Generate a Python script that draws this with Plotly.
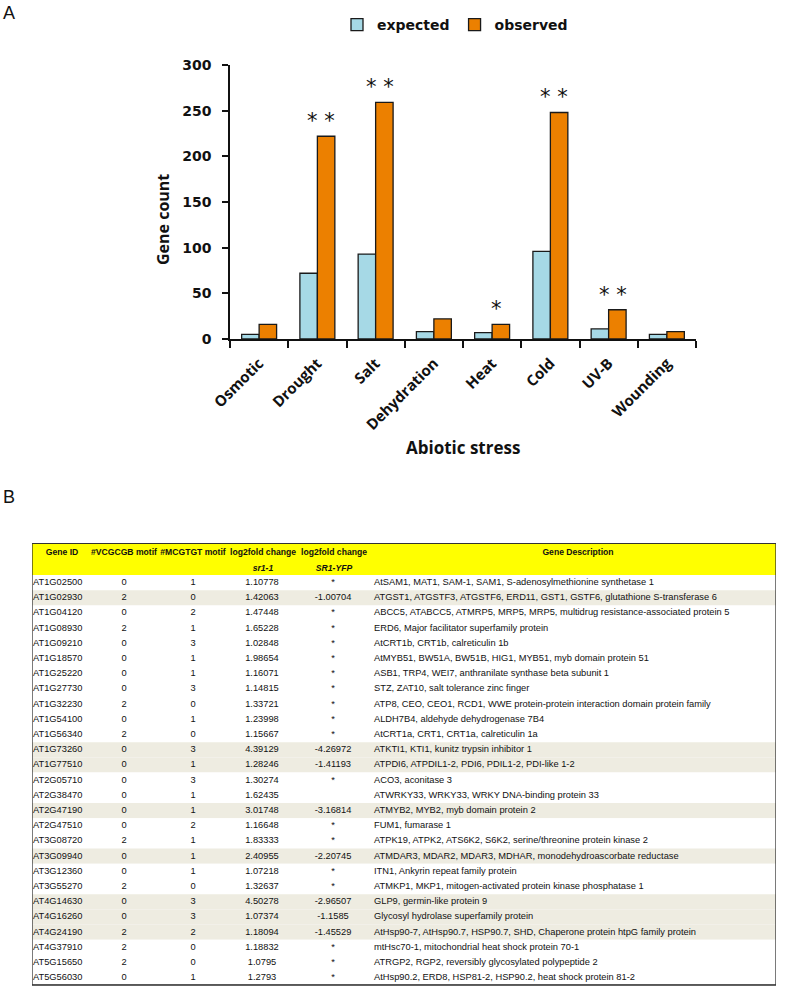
import plotly.graph_objects as go

W, H = 787, 995

# ---------------- Panel A data ----------------
stress = ["Osmotic", "Drought", "Salt", "Dehydration", "Heat", "Cold", "UV-B", "Wounding"]
expected = [5, 72, 93, 8, 7, 96, 11, 5]
observed = [16, 222, 259, 22, 16, 248, 32, 8]
significance = ["", "**", "**", "", "*", "**", "**", ""]
y_ticks = [0, 50, 100, 150, 200, 250, 300]

# ---------------- Panel B data ----------------
header_top = ["Gene ID", "#VCGCGB motif", "#MCGTGT motif", "log2fold change", "log2fold change", "Gene Description"]
header_sub = ["", "", "", "sr1-1", "SR1-YFP", ""]
gene_id = ["AT1G02500", "AT1G02930", "AT1G04120", "AT1G08930", "AT1G09210", "AT1G18570", "AT1G25220",
           "AT1G27730", "AT1G32230", "AT1G54100", "AT1G56340", "AT1G73260", "AT1G77510", "AT2G05710",
           "AT2G38470", "AT2G47190", "AT2G47510", "AT3G08720", "AT3G09940", "AT3G12360", "AT3G55270",
           "AT4G14630", "AT4G16260", "AT4G24190", "AT4G37910", "AT5G15650", "AT5G56030"]
vcgcgb = ["0", "2", "0", "2", "0", "0", "0", "0", "2", "0", "2", "0", "0", "0",
          "0", "0", "0", "2", "0", "0", "2", "0", "0", "2", "2", "2", "0"]
mcgtgt = ["1", "0", "2", "1", "3", "1", "1", "3", "0", "1", "0", "3", "1", "3",
          "1", "1", "2", "1", "1", "1", "0", "3", "3", "2", "0", "0", "1"]
log2fc_sr1 = ["1.10778", "1.42063", "1.47448", "1.65228", "1.02848", "1.98654", "1.16071",
              "1.14815", "1.33721", "1.23998", "1.15667", "4.39129", "1.28246", "1.30274",
              "1.62435", "3.01748", "1.16648", "1.83333", "2.40955", "1.07218", "1.32637",
              "4.50278", "1.07374", "1.18094", "1.18832", "1.0795", "1.2793"]
log2fc_yfp = ["*", "-1.00704", "*", "*", "*", "*", "*", "*", "*", "*", "*", "-4.26972", "-1.41193", "*",
              "", "-3.16814", "*", "*", "-2.20745", "*", "*", "-2.96507", "-1.1585", "-1.45529",
              "*", "*", "*"]
description = [
    "AtSAM1, MAT1, SAM-1, SAM1, S-adenosylmethionine synthetase 1",
    "ATGST1, ATGSTF3, ATGSTF6, ERD11, GST1, GSTF6, glutathione S-transferase 6",
    "ABCC5, ATABCC5, ATMRP5, MRP5, MRP5, multidrug resistance-associated protein 5",
    "ERD6, Major facilitator superfamily protein",
    "AtCRT1b, CRT1b, calreticulin 1b",
    "AtMYB51, BW51A, BW51B, HIG1, MYB51, myb domain protein 51",
    "ASB1, TRP4, WEI7, anthranilate synthase beta subunit 1",
    "STZ, ZAT10, salt tolerance zinc finger",
    "ATP8, CEO, CEO1, RCD1, WWE protein-protein interaction domain protein family",
    "ALDH7B4, aldehyde dehydrogenase 7B4",
    "AtCRT1a, CRT1, CRT1a, calreticulin 1a",
    "ATKTI1, KTI1, kunitz trypsin inhibitor 1",
    "ATPDI6, ATPDIL1-2, PDI6, PDIL1-2, PDI-like 1-2",
    "ACO3, aconitase 3",
    "ATWRKY33, WRKY33, WRKY DNA-binding protein 33",
    "ATMYB2, MYB2, myb domain protein 2",
    "FUM1, fumarase 1",
    "ATPK19, ATPK2, ATS6K2, S6K2, serine/threonine protein kinase 2",
    "ATMDAR3, MDAR2, MDAR3, MDHAR, monodehydroascorbate reductase",
    "ITN1, Ankyrin repeat family protein",
    "ATMKP1, MKP1, mitogen-activated protein kinase phosphatase 1",
    "GLP9, germin-like protein 9",
    "Glycosyl hydrolase superfamily protein",
    "AtHsp90-7, AtHsp90.7, HSP90.7, SHD, Chaperone protein htpG family protein",
    "mtHsc70-1, mitochondrial heat shock protein 70-1",
    "ATRGP2, RGP2, reversibly glycosylated polypeptide 2",
    "AtHsp90.2, ERD8, HSP81-2, HSP90.2, heat shock protein 81-2",
]

# ---------------- styling / layout constants ----------------
C_EXP = "#a6d9e6"
C_OBS = "#ec8000"
C_BEIGE = "#eeece1"
C_YELLOW = "#ffff00"
BOLD_SANS = "Open Sans"
VERD = "DejaVu Sans"
TFONT = "Liberation Sans"


def px(x):
    """page x (pixels) -> paper fraction"""
    return x / W


def py(y):
    """page y (pixels from top) -> paper fraction"""
    return 1 - y / H


fig = go.Figure()

# ---- Panel A bars ----
fig.add_trace(go.Bar(x=stress, y=expected, name="expected",
                     marker=dict(color=C_EXP, line=dict(color="#1a1a1a", width=1.3)),
                     xaxis="x", yaxis="y"))
fig.add_trace(go.Bar(x=stress, y=observed, name="observed",
                     marker=dict(color=C_OBS, line=dict(color="#1a1a1a", width=1.3)),
                     xaxis="x", yaxis="y"))

annotations = []
for cat, val, sig in zip(stress, observed, significance):
    if sig:
        annotations.append(dict(x=cat, y=val, xref="x", yref="y", text=" ".join(sig),
                                showarrow=False, yanchor="bottom", xanchor="center",
                                xshift=4, yshift=1, font=dict(family=VERD, size=21, color="#111")))

annotations += [
    dict(x=px(163), y=py(220), xref="paper", yref="paper", text="Gene count", textangle=-90,
         showarrow=False, xanchor="center", yanchor="middle",
         font=dict(family=BOLD_SANS, size=16, color="#111", weight="bold")),
    dict(x=px(463), y=py(447), xref="paper", yref="paper", text="Abiotic stress",
         showarrow=False, xanchor="center", yanchor="middle",
         font=dict(family=BOLD_SANS, size=17, color="#111", weight="bold")),
    dict(x=px(9), y=py(13), xref="paper", yref="paper", text="A", showarrow=False,
         xanchor="center", yanchor="middle",
         font=dict(family="Liberation Sans", size=18, color="#111")),
    dict(x=px(9), y=py(497), xref="paper", yref="paper", text="B", showarrow=False,
         xanchor="center", yanchor="middle",
         font=dict(family="Liberation Sans", size=18, color="#111")),
]

# ---- Panel B table (own axes in page-pixel units) ----
T_LEFT, T_RIGHT, T_TOP = 32, 776, 543
HEAD_BOTTOM = 575
ROW_H = 15.2
n = len(gene_id)
T_BOTTOM = HEAD_BOTTOM + n * ROW_H
row_y = [HEAD_BOTTOM + (i + 0.5) * ROW_H for i in range(n)]
row_fill = [C_BEIGE if v not in ("*", "") else "white" for v in log2fc_yfp]

fig.add_trace(go.Bar(
    y=[(T_TOP + HEAD_BOTTOM) / 2] + row_y,
    x=[T_RIGHT - T_LEFT] * (n + 1), base=T_LEFT,
    width=[HEAD_BOTTOM - T_TOP] + [ROW_H] * n,
    orientation="h", marker=dict(color=[C_YELLOW] + row_fill, line=dict(width=0)),
    showlegend=False, hoverinfo="skip", xaxis="x2", yaxis="y2"))

col_x_head = [62, 124, 193, 263, 334, 578]
col_x_cells = [33, 124, 193, 262, 333, 374]
col_pos = ["middle right", "middle center", "middle center", "middle center", "middle center", "middle right"]
columns = [gene_id, vcgcgb, mcgtgt, log2fc_sr1, log2fc_yfp, description]

tfont = dict(family=TFONT, size=9.3, color="#111")
hfont = dict(family=TFONT, size=8.6, color="#111", weight="bold")
for xc, pos, vals in zip(col_x_cells, col_pos, columns):
    fig.add_trace(go.Scatter(x=[xc] * n, y=row_y, mode="text", text=vals, textposition=pos,
                             textfont=tfont, showlegend=False, hoverinfo="skip",
                             cliponaxis=False, xaxis="x2", yaxis="y2"))

fig.add_trace(go.Scatter(x=col_x_head, y=[552.5] * 6, mode="text",
                         text=header_top, textposition="middle center",
                         textfont=hfont, showlegend=False, hoverinfo="skip", cliponaxis=False,
                         xaxis="x2", yaxis="y2"))
fig.add_trace(go.Scatter(x=col_x_head, y=[568.5] * 6, mode="text",
                         text=["<i>" + h + "</i>" if h else "" for h in header_sub],
                         textposition="middle center",
                         textfont=hfont, showlegend=False, hoverinfo="skip", cliponaxis=False,
                         xaxis="x2", yaxis="y2"))

shapes = [
    dict(type="rect", xref="x2", yref="y2", x0=T_LEFT, x1=T_RIGHT, y0=T_TOP, y1=T_BOTTOM,
         line=dict(color="#222", width=1.2)),
    dict(type="line", xref="x2", yref="y2", x0=T_LEFT, x1=T_RIGHT, y0=T_TOP, y1=T_TOP,
         line=dict(color="#333", width=2.2)),
    dict(type="line", xref="x2", yref="y2", x0=T_LEFT, x1=T_RIGHT, y0=T_BOTTOM, y1=T_BOTTOM,
         line=dict(color="#333", width=2.5)),
]

fig.update_layout(
    width=W, height=H, margin=dict(l=0, r=0, t=0, b=0, pad=0, autoexpand=False),
    paper_bgcolor="white", plot_bgcolor="white",
    barmode="group", bargap=0.4, bargroupgap=0,
    font=dict(family=BOLD_SANS, color="#111"),
    legend=dict(orientation="h", x=px(337), y=py(25), xanchor="left", yanchor="middle",
                font=dict(family=VERD, size=14, color="#111", weight="bold"),
                bgcolor="rgba(0,0,0,0)", itemclick=False),
    xaxis=dict(domain=[px(230), px(696)], anchor="y", type="category", automargin=False,
               showline=True, linecolor="#111", linewidth=1.5, mirror=False,
               ticks="outside", tickson="boundaries", ticklen=7, tickwidth=1.5, tickcolor="#111",
               tickangle=-45, tickfont=dict(family=BOLD_SANS, size=15, color="#111", weight="bold"),
               showgrid=False, ticklabelstandoff=8),
    yaxis=dict(domain=[py(339), py(65)], anchor="x", range=[0, 300], tickvals=y_ticks,
               automargin=False,
               showline=True, linecolor="#111", linewidth=1.5,
               ticks="outside", ticklen=6, tickwidth=1.5, tickcolor="#111",
               tickfont=dict(family=VERD, size=14, color="#111", weight="bold"),
               showgrid=False, zeroline=False, ticklabelstandoff=8),
    xaxis2=dict(domain=[px(T_LEFT), px(T_RIGHT)], anchor="y2", range=[T_LEFT, T_RIGHT],
                visible=False, fixedrange=True, automargin=False),
    yaxis2=dict(domain=[py(T_BOTTOM), py(T_TOP)], anchor="x2", range=[T_BOTTOM, T_TOP],
                visible=False, fixedrange=True, automargin=False),
    annotations=annotations, shapes=shapes,
)

# remove the browser's default 8px body margin so the figure fills the window exactly
fig.write_html("out.html", config={"displayModeBar": False},
               post_script="document.body.style.margin='0px';")
